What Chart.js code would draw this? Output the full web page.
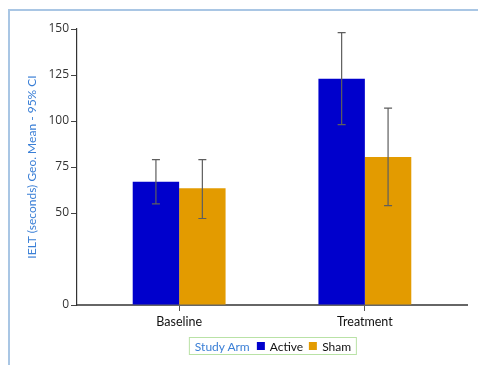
<!DOCTYPE html>
<html>
<head>
<meta charset="utf-8">
<script src="https://cdn.jsdelivr.net/npm/chart.js@4"></script>
<style>
  html, body { margin: 0; padding: 0; background: #fff; overflow: hidden; }
  #frame {
    position: absolute; left: 8px; top: 9px; width: 600px; height: 500px;
    border-top: 2px solid #a9c6e4; border-left: 2px solid #a9c6e4;
  }
  #wrap { position: absolute; left: 0; top: 0; width: 478px; height: 365px; }
  #legend {
    position: absolute; left: 273px; top: 337px; height: 16px; transform: translateX(-50%);
    padding: 0 5px; border: 1px solid #b9e2a6; font-family: "Lato", sans-serif; font-size: 12px;
    display: flex; align-items: center; gap: 6px; white-space: nowrap;
  }
  #legend .title { color: #3a7fd6; margin-right: 1px; }
  #legend .sw { display: inline-block; width: 8px; height: 8px; margin-right: 5px; }
  #legend .item { color: #111; display: flex; align-items: center; }
</style>
</head>
<body>
<div id="frame"></div>
<div id="wrap"><canvas id="chart" width="478" height="365"></canvas></div>
<div id="legend">
  <span class="title">Study Arm</span>
  <span class="item"><span class="sw" style="background:#0000cc"></span>Active</span>
  <span class="item"><span class="sw" style="background:#e39b00"></span>Sham</span>
</div>
<script>
const groups = ["Baseline", "Treatment"];
const activeMean = [67, 123];
const activeLow = [55, 98];
const activeHigh = [79, 148];
const shamMean = [63.5, 80.5];
const shamLow = [47, 54];
const shamHigh = [79, 107];
const yTicks = [0, 50, 75, 100, 125, 150];

const errorBars = {
  id: "errorBars",
  afterDatasetsDraw(chart) {
    const ctx = chart.ctx;
    const y = chart.scales.y;
    chart.data.datasets.forEach((ds, i) => {
      const meta = chart.getDatasetMeta(i);
      meta.data.forEach((bar, j) => {
        const top = y.getPixelForValue(ds.high[j]);
        const bot = y.getPixelForValue(ds.low[j]);
        ctx.save();
        ctx.strokeStyle = "#5e5e5e";
        ctx.lineWidth = 1.2;
        ctx.beginPath();
        ctx.moveTo(bar.x, top); ctx.lineTo(bar.x, bot);
        ctx.moveTo(bar.x - 4, top); ctx.lineTo(bar.x + 4, top);
        ctx.moveTo(bar.x - 4, bot); ctx.lineTo(bar.x + 4, bot);
        ctx.stroke();
        ctx.restore();
      });
    });
  }
};

new Chart(document.getElementById("chart"), {
  type: "bar",
  data: {
    datasets: [
      {
        label: "Active",
        data: activeMean.map((v, i) => ({ x: i, y: v })),
        low: activeLow, high: activeHigh,
        backgroundColor: "#0000cc",
        categoryPercentage: 0.5, barPercentage: 1.0,
      },
      {
        label: "Sham",
        data: shamMean.map((v, i) => ({ x: i, y: v })),
        low: shamLow, high: shamHigh,
        backgroundColor: "#e39b00",
        categoryPercentage: 0.5, barPercentage: 1.0,
      },
    ],
  },
  options: {
    responsive: false,
    animation: false,
    layout: { padding: { left: 21, right: 11, top: 29, bottom: 0 } },
    scales: {
      x: {
        type: "linear",
        offset: false,
        min: -0.55, max: 1.55,
        afterBuildTicks: (s) => { s.ticks = groups.map((g, i) => ({ value: i })); },
        afterFit: (s) => { s.height = 60; },
        ticks: {
          callback: (v) => groups[v],
          color: "#111",
          padding: 3,
          font: { family: "Lato", size: 12.5 },
        },
        grid: { offset: false, drawOnChartArea: false, tickLength: 6, color: "#555" },
        border: { color: "#666", width: 2 },
      },
      y: {
        min: 0, max: 150,
        afterBuildTicks: (s) => { s.ticks = yTicks.map((v) => ({ value: v })); },
        afterFit: (s) => { s.width = 56; },
        ticks: {
          color: "#333",
          padding: 2,
          font: { family: "Open Sans", size: 12 },
        },
        grid: { drawOnChartArea: false, tickLength: 6, color: "#444" },
        border: { color: "#333", width: 1.2 },
        title: {
          display: true,
          text: "IELT (seconds) Geo. Mean - 95% CI",
          color: "#3a7fd6",
          padding: 4,
          font: { family: "Lato", size: 12 },
        },
      },
    },
    plugins: { legend: { display: false }, tooltip: { enabled: false } },
  },
  plugins: [errorBars],
});
</script>
</body>
</html>
